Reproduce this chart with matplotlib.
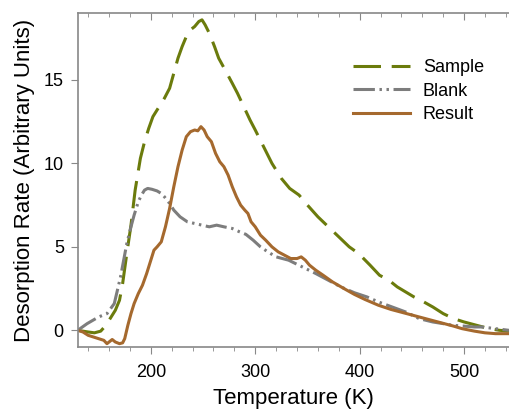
import matplotlib
matplotlib.use("Agg")
import matplotlib.pyplot as plt
from matplotlib.ticker import MultipleLocator

plt.rcParams["font.family"] = ["Liberation Sans", "DejaVu Sans"]

SAMPLE = "#6b7b0c"
BLANK = "#7d7d7d"
RESULT = "#a5692e"
SPINE = "#888888"

sample_x = [130, 140, 146, 152, 157, 162, 166, 170, 173, 177, 181, 185, 190, 194, 198, 202,
            208, 213, 218, 222, 226, 230, 234, 238, 242, 246, 249, 252, 256, 261, 265, 272,
            278, 283, 289, 295, 300, 308, 316, 325, 333, 342, 350, 360, 370, 380, 390, 399,
            410, 419, 428, 436, 444, 452, 460, 470, 480, 490, 500, 512, 524, 534, 543]
sample_y = [0, -0.1, -0.15, -0.05, 0.3, 0.8, 1.2, 1.8, 2.8, 4.6, 6.3, 8.4, 10.3, 11.3, 12.1, 12.8,
            13.4, 13.9, 14.5, 15.4, 16.3, 17.0, 17.6, 18.0, 18.2, 18.5, 18.6, 18.3, 17.8, 17.0, 16.3, 15.5,
            14.8, 14.2, 13.4, 12.6, 12.0, 11.0, 10.0, 9.1, 8.5, 8.1, 7.5, 6.8, 6.2, 5.6, 5.0, 4.6,
            3.9, 3.3, 3.0, 2.6, 2.3, 2.0, 1.75, 1.4, 1.0, 0.7, 0.5, 0.3, 0.1, 0.0, -0.05]

blank_x = [130, 139, 150, 158, 165, 171, 177, 181, 184, 188, 191, 194, 197, 201, 206, 210, 213,
           218, 222, 228, 235, 242, 249, 256, 263, 270, 278, 285, 291, 298, 305, 312, 320, 332,
           345, 358, 370, 382, 395, 407, 418, 431, 444, 457, 470, 480, 489, 500, 510, 517, 530, 543]
blank_y = [0, 0.4, 0.8, 1.0, 1.6, 3.2, 5.2, 6.2, 6.9, 7.7, 8.1, 8.4, 8.5, 8.45, 8.35, 8.2, 8.0,
           7.6, 7.2, 6.8, 6.5, 6.4, 6.3, 6.2, 6.3, 6.2, 6.1, 5.9, 5.75, 5.4, 5.0, 4.7, 4.4, 4.2,
           3.8, 3.4, 3.0, 2.6, 2.25, 2.0, 1.7, 1.4, 1.1, 0.7, 0.5, 0.4, 0.3, 0.25, 0.2, 0.2, 0.1, 0.0]

result_x = [130, 135, 140, 145, 150, 155, 158, 161, 163, 166, 170, 173, 175, 178, 181, 184, 188,
            192, 196, 200, 203, 206, 210, 214, 218, 222, 226, 230, 234, 238, 242, 245, 248, 251,
            254, 258, 262, 266, 270, 274, 278, 282, 286, 290, 293, 296, 300, 305, 310, 316, 322,
            328, 334, 340, 344, 348, 352, 358, 365, 374, 385, 395, 405, 418, 430, 445, 460, 475,
            490, 498, 510, 520, 530, 543]
result_y = [0, -0.1, -0.3, -0.4, -0.5, -0.6, -0.8, -0.65, -0.55, -0.7, -0.8, -0.75, -0.5, 0.3, 1.0,
            1.6, 2.2, 2.7, 3.4, 4.2, 4.8, 5.0, 5.3, 6.2, 7.3, 8.6, 9.8, 10.8, 11.6, 11.9, 12.0, 11.95,
            12.2, 12.0, 11.6, 11.3, 10.6, 10.1, 9.8, 9.3, 8.6, 8.0, 7.5, 7.2, 7.0, 6.5, 6.2, 5.7,
            5.4, 5.0, 4.7, 4.5, 4.3, 4.3, 4.4, 4.2, 3.9, 3.6, 3.3, 2.9, 2.5, 2.15, 1.85, 1.5, 1.25,
            1.0, 0.75, 0.5, 0.25, 0.1, -0.05, -0.15, -0.2, -0.2]

fig = plt.figure(figsize=(5.09, 4.11), dpi=100)
ax = fig.add_axes([0.1527, 0.1557, 0.8473, 0.8123])

ax.plot(sample_x, sample_y, color=SAMPLE, lw=2.2, dashes=(9, 3.5), label="Sample")
ax.plot(blank_x, blank_y, color=BLANK, lw=2.2, dashes=(7, 1.5, 0.8, 1.5, 0.8, 1.5), label="Blank")
ax.plot(result_x, result_y, color=RESULT, lw=2.2, label="Result")

ax.set_xlim(130, 543)
ax.set_ylim(-1, 19)
ax.xaxis.set_major_locator(MultipleLocator(100))
ax.xaxis.set_minor_locator(MultipleLocator(20))
ax.yaxis.set_major_locator(MultipleLocator(5))

for s in ["left", "bottom", "top"]:
    ax.spines[s].set_color(SPINE)
    ax.spines[s].set_linewidth(1.2)
ax.spines["right"].set_visible(False)

ax.tick_params(axis="x", which="major", direction="out", length=5, color=SPINE,
               labelsize=13, top=True, pad=7)
ax.tick_params(axis="x", which="minor", direction="out", length=3, color=SPINE, top=True)
ax.tick_params(axis="y", which="major", direction="out", length=5, color=SPINE,
               labelsize=13, right=False, pad=5)
ax.tick_params(axis="x", which="both", labeltop=False)
# top ticks point inward
for t in ax.xaxis.get_major_ticks() + ax.xaxis.get_minor_ticks():
    t.tick2line.set_marker(3)

ax.set_xlabel("Temperature (K)", fontsize=16, labelpad=5)
ax.set_ylabel("Desorption Rate (Arbitrary Units)", fontsize=16, labelpad=6)

ax.legend(loc="upper right", bbox_to_anchor=(0.98, 0.91), frameon=False, fontsize=13,
          handlelength=3.2, handletextpad=0.7, labelspacing=0.35)

fig.savefig("out.png", dpi=100)
